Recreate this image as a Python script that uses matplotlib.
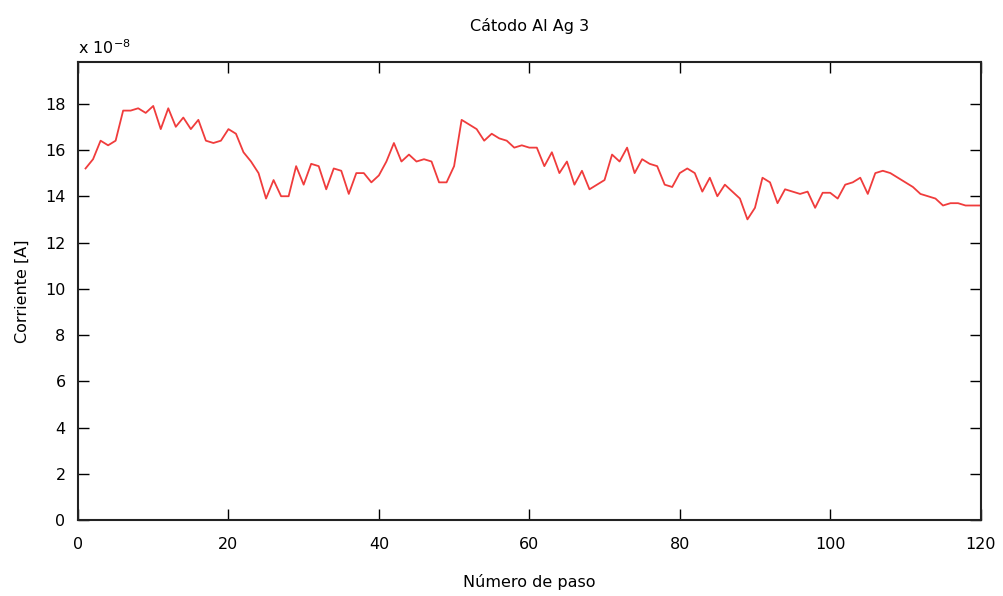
import matplotlib.pyplot as plt
from matplotlib.ticker import FuncFormatter, MultipleLocator
import numpy as np

# step number and current (read in units of 1e-8 A)
paso = np.arange(1, 121)
corriente_e8 = [
    15.2, 15.6, 16.4, 16.2, 16.4, 17.7, 17.7, 17.8, 17.6, 17.9,
    16.9, 17.8, 17.0, 17.4, 16.9, 17.3, 16.4, 16.3, 16.4, 16.9,
    16.7, 15.9, 15.5, 15.0, 13.9, 14.7, 14.0, 14.0, 15.3, 14.5,
    15.4, 15.3, 14.3, 15.2, 15.1, 14.1, 15.0, 15.0, 14.6, 14.9,
    15.5, 16.3, 15.5, 15.8, 15.5, 15.6, 15.5, 14.6, 14.6, 15.3,
    17.3, 17.1, 16.9, 16.4, 16.7, 16.5, 16.4, 16.1, 16.2, 16.1,
    16.1, 15.3, 15.9, 15.0, 15.5, 14.5, 15.1, 14.3, 14.5, 14.7,
    15.8, 15.5, 16.1, 15.0, 15.6, 15.4, 15.3, 14.5, 14.4, 15.0,
    15.2, 15.0, 14.2, 14.8, 14.0, 14.5, 14.2, 13.9, 13.0, 13.5,
    14.8, 14.6, 13.7, 14.3, 14.2, 14.1, 14.2, 13.5, 14.15, 14.15,
    13.9, 14.5, 14.6, 14.8, 14.1, 15.0, 15.1, 15.0, 14.8, 14.6,
    14.4, 14.1, 14.0, 13.9, 13.6, 13.7, 13.7, 13.6, 13.6, 13.6,
]
corriente = np.array(corriente_e8) * 1e-8

plt.rcParams['font.family'] = 'DejaVu Sans'
plt.rcParams['font.size'] = 11.5

fig = plt.figure(figsize=(10.04, 5.96), dpi=100)
ax = fig.add_axes([0.0777, 0.127, 0.899, 0.769])

ax.plot(paso, corriente, color='#f03c3c', linewidth=1.3)

ax.set_xlim(0, 120)
ax.set_ylim(0, 1.98e-7)
ax.xaxis.set_major_locator(MultipleLocator(20))
ax.yaxis.set_major_locator(MultipleLocator(2e-8))
ax.yaxis.set_major_formatter(FuncFormatter(lambda v, p: '%d' % round(v / 1e-8)))

ax.tick_params(direction='in', length=8, width=1, top=True, right=True,
               labelsize=11.5, colors='black')
ax.tick_params(axis='x', pad=12)
ax.tick_params(axis='y', pad=9)
for s in ax.spines.values():
    s.set_linewidth(1.5)
    s.set_color('#222222')

ax.set_title('Cátodo Al Ag 3', fontsize=11.5, pad=22)
ax.set_xlabel('Número de paso', fontsize=11.5, labelpad=16)
ax.set_ylabel('Corriente [A]', fontsize=11.5, labelpad=11)
ax.text(0, 1.01, r'x 10$^{-8}$', transform=ax.transAxes, fontsize=11.5,
        ha='left', va='bottom')

fig.savefig('out.png', dpi=100)
